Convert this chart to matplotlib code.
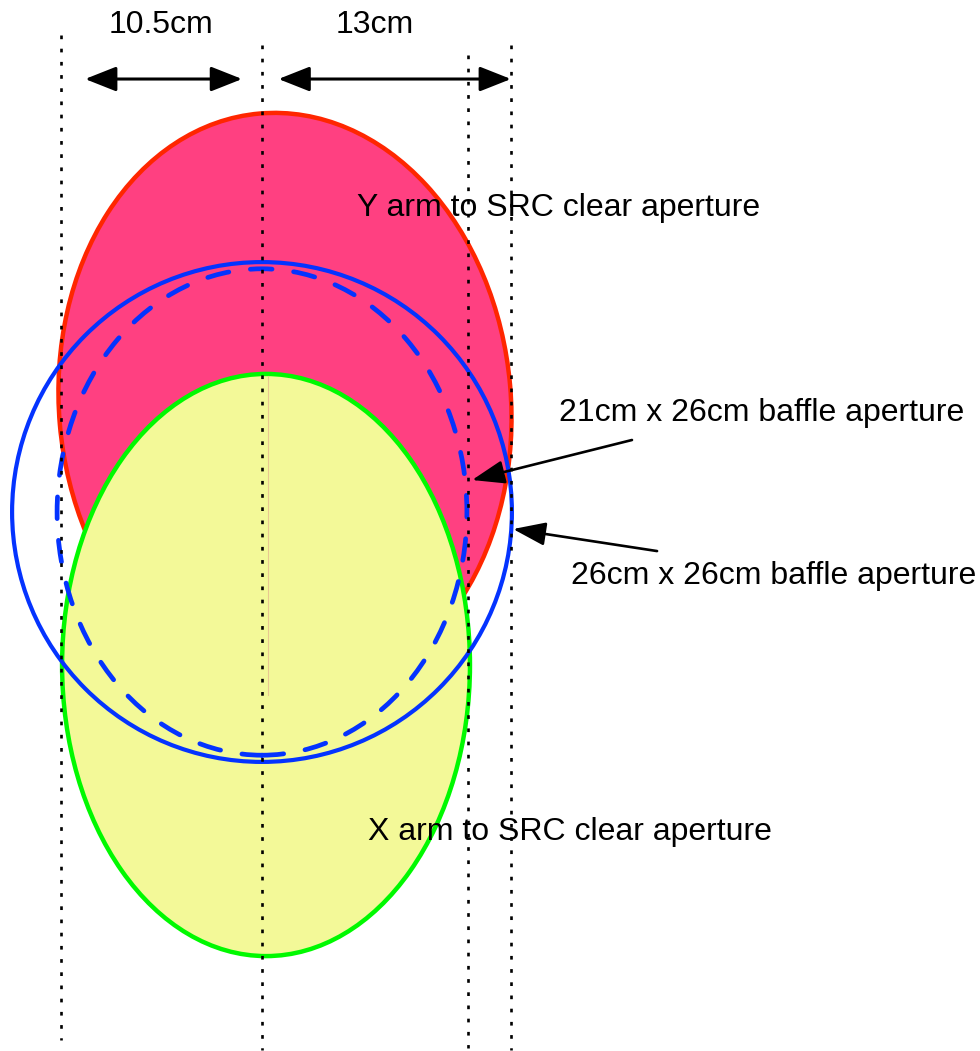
import matplotlib
matplotlib.use("Agg")
import matplotlib.pyplot as plt
from matplotlib.patches import Ellipse, FancyArrowPatch

plt.rcParams['font.family'] = ['Liberation Sans', 'DejaVu Sans']

# everything in cm, measured from the beam axis / centre of the baffle
PX_PER_CM = 19.15
X0_PX, Y0_PX = 262, 512
W_PX, H_PX = 980, 1051

# apertures: centre (x, y), width, height, angle
aperture_names = ["Y arm to SRC clear aperture", "X arm to SRC clear aperture",
                  "26cm x 26cm baffle aperture", "21cm x 26cm baffle aperture"]
aperture_cx = [1.20, 0.21, 0.0, 0.0]
aperture_cy = [5.59, -7.99, 0.0, 0.0]
aperture_w = [23.6, 21.3, 26.1, 21.4]
aperture_h = [30.55, 30.4, 26.1, 25.4]
aperture_angle = [5.0, 0.0, 0.0, 0.0]

# dotted guide lines
guide_x = [-10.5, 0.0, 10.75, 13.0]
guide_top = [24.91, 24.39, 23.86, 24.39]
guide_bottom = [-27.57, -28.09, -27.99, -28.09]

# dimension arrows
dim_labels = ["10.5cm", "13cm"]
dim_x0 = [-9.24, 0.86]
dim_x1 = [-1.04, 13.0]
dim_y = 22.61
dim_text_x = [-5.25, 5.9]
dim_text_y = 25.43

# labels for the apertures
label_x = [4.96, 5.54, 16.14, 15.51]
label_y = [15.87, -16.71, -3.34, 5.17]
pointer_tail = [None, None, (20.63, -2.04), (19.32, 3.76)]
pointer_tip = [None, None, (13.11, -0.89), (10.97, 1.67)]

fig = plt.figure(figsize=(W_PX / 100, H_PX / 100), dpi=100)
ax = fig.add_axes([0, 0, 1, 1])
ax.set_xlim(-X0_PX / PX_PER_CM, (W_PX - X0_PX) / PX_PER_CM)
ax.set_ylim((Y0_PX - H_PX) / PX_PER_CM, Y0_PX / PX_PER_CM)
ax.axis('off')

# Y arm (red), X arm (yellow/green)
ax.add_patch(Ellipse((aperture_cx[0], aperture_cy[0]), aperture_w[0], aperture_h[0],
                     angle=aperture_angle[0], facecolor='#ff4081', edgecolor='#ff2600',
                     lw=3.2, zorder=1))
ax.add_patch(Ellipse((aperture_cx[1], aperture_cy[1]), aperture_w[1], aperture_h[1],
                     angle=aperture_angle[1], facecolor='#f3f998', edgecolor='#00f900',
                     lw=3.2, zorder=2))
ax.plot([0.29, 0.29], [7.10, -9.56], color='#e8c890', lw=0.8, zorder=2.5)

# baffles (blue)
ax.add_patch(Ellipse((aperture_cx[2], aperture_cy[2]), aperture_w[2], aperture_h[2],
                     facecolor='none', edgecolor='#0433ff', lw=3.0, zorder=4))
ax.add_patch(Ellipse((aperture_cx[3], aperture_cy[3]), aperture_w[3], aperture_h[3],
                     facecolor='none', edgecolor='#0433ff', lw=3.4, zorder=3,
                     linestyle=(0, (4.6, 4.6)), capstyle='round'))

for x, y0, y1 in zip(guide_x, guide_top, guide_bottom):
    ax.plot([x, x], [y0, y1], color='black', lw=1.9, linestyle=(0, (1.4, 3.6)),
            solid_capstyle='butt', dash_capstyle='butt', zorder=6)

for lab, xa, xb, tx in zip(dim_labels, dim_x0, dim_x1, dim_text_x):
    ax.add_patch(FancyArrowPatch((xa, dim_y), (xb, dim_y),
                                 arrowstyle='<|-|>,head_length=0.96,head_width=0.38',
                                 mutation_scale=20, lw=2.2, color='black',
                                 shrinkA=0, shrinkB=0, zorder=7))
    ax.text(tx, dim_text_y, lab, fontsize=23, ha='center', va='center', zorder=8)

for name, lx, ly, tail, tip in zip(aperture_names, label_x, label_y,
                                   pointer_tail, pointer_tip):
    ax.text(lx, ly, name, fontsize=23, ha='left', va='center', zorder=8)
    if tail is not None:
        ax.add_patch(FancyArrowPatch(tail, tip,
                                     arrowstyle='-|>,head_length=1.0,head_width=0.36',
                                     mutation_scale=20, lw=1.9, color='black',
                                     shrinkA=0, shrinkB=0, zorder=7))

fig.savefig('out.png', dpi=100)
